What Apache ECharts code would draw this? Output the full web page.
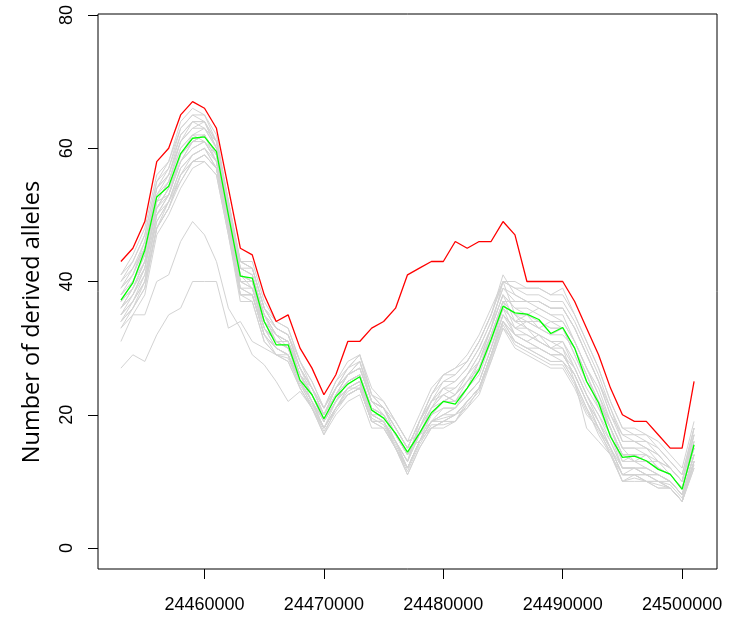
<!DOCTYPE html>
<html><head><meta charset="utf-8">
<script src="https://cdn.jsdelivr.net/npm/echarts@6/dist/echarts.min.js"></script>
<style>html,body{margin:0;padding:0;background:#fff}#c{width:742px;height:617px}</style>
</head><body><div id="c"></div>
<script>
// positions (bp), 24453000 .. 24501000 step 1000
const positions = [24453000,24454000,24455000,24456000,24457000,24458000,24459000,24460000,24461000,24462000,
24463000,24464000,24465000,24466000,24467000,24468000,24469000,24470000,24471000,24472000,
24473000,24474000,24475000,24476000,24477000,24478000,24479000,24480000,24481000,24482000,
24483000,24484000,24485000,24486000,24487000,24488000,24489000,24490000,24491000,24492000,
24493000,24494000,24495000,24496000,24497000,24498000,24499000,24500000,24501000];
const xTicks = [24460000,24470000,24480000,24490000,24500000];
const yTicks = [0,20,40,60,80];
const yTitle = 'Number of derived alleles';

const redLine = [43,45,49,58,60,65,67,66,63,54,45,44,38,34,35,30,27,23,26,31,31,33,34,36,41,42,43,43,46,45,46,46,49,47,40,40,40,40,37,33,29,24,20,19,19,17,15,15,25];
const greenLine = [37.2,39.8,44.7,52.7,54.3,59.2,61.5,61.7,59.5,50,40.8,40.5,34,30.5,30.5,25.2,23,19.4,22.7,24.6,25.7,20.7,19.5,17.2,14.4,17.2,20.3,22,21.6,24,26.7,31.3,36.3,35.3,35.1,34.3,32.2,33.1,30,25,21.8,16.7,13.6,13.8,13.1,11.8,11.1,8.8,15.5];

const gray01 = [41,44,48,56,58,64,66,65,62,52,43,42,36,33,32,27,24,20,23,26,28,22,21,18,15,19,22,24,25,27,30,34,39,38,37,37,36,36,33,29,25,20,16,16,15,14,12,10,17];
const gray02 = [33,35,38,47,50,54,57,58,56,47,37,37,31,29,28,24,21,17,20,22,23,18,18,15,11,15,18,18,19,21,23,28,33,31,30,29,28,28,25,21,17,14,10,10,10,9,9,7,12];
const gray03 = [37,39,43,51,54,59,61,62,59,50,40,40,34,31,30,26,23,19,22,25,26,21,20,17,14,17,21,22,23,25,28,33,40,39,39,39,38,38,35,31,27,22,18,17,17,15,13,11,18];
const gray04 = [39,42,45,54,56,61,64,64,60,51,42,41,35,32,31,27,24,20,24,26,27,22,21,18,15,16,18,19,19,22,24,29,34,31,30,29,28,28,25,21,18,15,11,11,10,10,9,7,13];
const gray05 = [35,37,41,49,52,57,59,60,58,49,39,39,33,30,29,25,22,18,21,24,25,20,19,16,12,16,20,21,21,23,25,30,35,33,32,31,30,31,27,23,20,16,12,12,11,11,10,8,14];
const gray06 = [34,36,39,48,51,55,58,59,57,48,38,38,32,30,29,25,22,18,21,24,25,20,19,16,13,19,23,26,26,28,31,35,41,38,37,36,35,35,31,27,23,18,14,14,13,12,11,9,15];
const gray07 = [40,43,47,55,57,63,65,65,61,52,43,42,36,33,32,28,24,21,24,27,29,23,21,19,16,17,19,20,21,23,25,30,35,32,32,31,30,30,27,23,20,17,12,12,12,11,10,8,14];
const gray08 = [38,40,44,52,55,60,62,62,59,50,41,40,34,32,31,26,23,20,23,25,26,21,20,17,14,18,21,23,22,25,27,32,37,35,35,34,33,33,30,26,22,18,14,14,14,12,11,9,16];
const gray09 = [39,41,46,54,56,62,64,64,60,51,42,41,35,33,32,27,24,20,24,26,28,22,21,18,15,19,22,25,25,27,30,34,39,37,37,37,36,36,33,29,25,20,17,16,16,14,12,10,17];
const gray10 = [36,38,42,50,53,58,60,61,58,49,40,39,33,31,30,25,22,19,22,24,25,20,20,16,13,17,20,22,23,25,27,31,36,34,34,33,32,33,29,25,22,18,14,13,13,12,11,9,15];
const gray11 = [33,36,39,48,51,56,58,59,57,48,38,38,32,29,29,25,22,18,21,23,24,19,19,15,12,16,19,21,21,24,26,31,37,37,37,37,36,36,33,29,25,21,16,16,15,14,12,10,18];
const gray12 = [37,40,44,52,55,60,62,63,60,51,43,42,36,34,33,28,25,21,25,28,29,24,22,19,16,20,24,26,27,29,32,36,40,35,33,31,30,29,26,22,18,15,11,11,10,10,9,7,13];
const gray13 = [38,41,45,53,55,61,63,63,60,50,41,40,35,31,31,26,23,19,23,26,27,22,20,17,14,18,21,24,24,26,29,33,38,36,36,35,34,34,31,27,23,19,15,15,15,13,12,10,17];
const gray14 = [35,38,41,49,52,57,59,60,57,48,39,38,33,30,29,25,22,18,21,23,24,19,19,16,12,16,19,20,20,22,24,29,34,32,31,30,29,29,26,22,19,15,12,12,12,11,10,8,13];
const gray15 = [40,42,46,54,57,62,64,63,61,52,42,42,36,33,32,27,24,21,24,27,28,23,21,18,15,19,23,25,26,28,31,35,40,39,38,38,37,37,34,30,26,21,17,17,16,15,13,11,18];
const gray16 = [34,37,40,48,51,56,58,59,57,48,38,38,32,30,29,24,21,18,21,23,24,19,18,15,12,16,19,19,20,22,24,29,35,33,33,32,31,31,28,24,21,17,13,13,12,11,10,8,14];
const gray17 = [37,39,43,51,54,59,62,61,59,50,40,40,34,31,31,26,23,19,23,25,26,21,20,17,14,17,20,22,23,25,27,32,37,35,34,34,33,33,30,26,22,18,14,14,13,13,11,9,16];
const gray18 = [36,39,42,52,53,59,61,62,58,49,41,39,34,32,30,26,22,19,22,25,26,20,19,16,13,18,22,23,24,26,28,33,38,34,35,33,34,33,29,25,22,19,15,13,14,12,11,9,15];
const gray19 = [31,35,35,40,41,46,49,47,43,36,33,29,27.5,25,22,23.5,21,17.5,20.5,23,24,19,19,15.5,12,16,19,19.5,20,22,24,29,34,32,31,30,29,29,26,22,19,15,11,11,11,10,9.5,7.5,13];
const gray20 = [27,29,28,32,35,36,40,40,40,33,34,31,30,29,28.5,24.5,21.5,18,21,23.5,24.5,19.5,18.5,15,11.5,15.5,18.5,18.5,19,21.5,23.5,28.5,33.5,30.5,29.5,28.5,27.5,27.5,24.5,20.5,17.5,14.5,10,10.5,10,9.5,9,7,12.5];
const gray21 = [36,38,42,50,53,58,60,61,58,49,40,39,33,31,30,25,22,19,22,24,25,20,19,16,13,17,20,22,22,24,27,31,36,34,33,32,31,30,25,18,16,14,11,12,11,11,10,8,14];
const gray22 = [39,41,45,53,56,61,63,64,61,51,42,41,35,32,31,27,23,20,24,26,27,22,21,17,14,18,22,24,23,26,29,33,38,36,35,36,35,34,31,27,24,19,15,15,14,13,12,10,16];
const gray23 = [35,37,40,50,52,56,59,60,57,48,39,38,32,30,29,25,21,18,22,24,24,19,19,15,12,16,19,20,21,23,25,30,36,32,31,32,30,29,27,23,19,16,12,12,11,10,10,8,14];
const gray24 = [38,40,43,51,54,58,61,62,59,50,41,40,35,32,31,26,24,20,23,26,27,22,21,18,15,19,23,26,27,28,31,35,40,40,39,39,38,39,35,31,27,22,18,18,17,16,14,12,19];
const gray25 = [41,43,47,55,58,63,65,64,61,52,43,43,37,34,33,28,25,21,25,27,29,23,22,19,16,17,18,19,20,21,24,28,33,30,29,28,27,27,24,20,18,14,10,11,10,9,9,7,12];
const gray26 = [36,39,43,51,53,58,61,61,58,49,40,40,33,31,30,26,23,19,22,25,26,21,20,17,14,17,21,23,22,24,28,32,37,33,34,33,32,32,30,26,21,18,13,14,13,12,11,9,15];
const gray27 = [34,36,40,48,52,55,58,58,56,47,38,37,31,29,28,24,21,17,21,23,24,19,18,15,11,15,18,19,20,22,24,29,34,31,30,30,29,28,26,22,18,15,11,11,11,10,9,7,13];
const grayLines = [gray01,gray02,gray03,gray04,gray05,gray06,gray07,gray08,gray09,gray10,gray11,gray12,gray13,gray14,
  gray15,gray16,gray17,gray18,gray19,gray20,gray21,gray22,gray23,gray24,gray25,gray26,gray27];

function pairs(vals){ return positions.map((x,i)=>[x, vals[i]]); }

const series = [];
grayLines.forEach(g => series.push({type:'line', data:pairs(g), symbol:'none', silent:true,
  lineStyle:{color:'#d3d3d3', width:1}}));
series.push({type:'line', data:pairs(redLine), symbol:'none', lineStyle:{color:'#ff0000', width:1.3}});
series.push({type:'line', data:pairs(greenLine), symbol:'none', lineStyle:{color:'#00ff00', width:1.3}});

const chart = echarts.init(document.getElementById('c'), null, {renderer:'canvas'});
chart.setOption({
  animation:false,
  backgroundColor:'#fff',
  grid:{left:98, right:25, top:14, bottom:48, show:true, borderColor:'#000', borderWidth:1, backgroundColor:'transparent'},
  xAxis:{type:'value', min:24451080, max:24502920,
    axisLine:{show:false, onZero:false}, splitLine:{show:false},
    axisTick:{show:true, length:10, lineStyle:{color:'#000'}, customValues:xTicks},
    axisLabel:{customValues:xTicks, margin:27, color:'#000', fontSize:18, fontFamily:'Liberation Sans',
      formatter:v=>String(v)}},
  yAxis:{type:'value', min:-3.15, max:80.15,
    axisLine:{show:false, onZero:false}, splitLine:{show:false},
    axisTick:{show:true, length:10, lineStyle:{color:'#000'}, customValues:yTicks},
    axisLabel:{customValues:yTicks, rotate:90, margin:22, color:'#000', fontSize:18, fontFamily:'Liberation Sans'}},
  graphic:[{type:'text', x:32, y:322, rotation:Math.PI/2,
    style:{text:yTitle, fontSize:23.5, fontFamily:'Open Sans', fill:'#000', align:'center', verticalAlign:'middle'}}],
  series:series
});
</script></body></html>
